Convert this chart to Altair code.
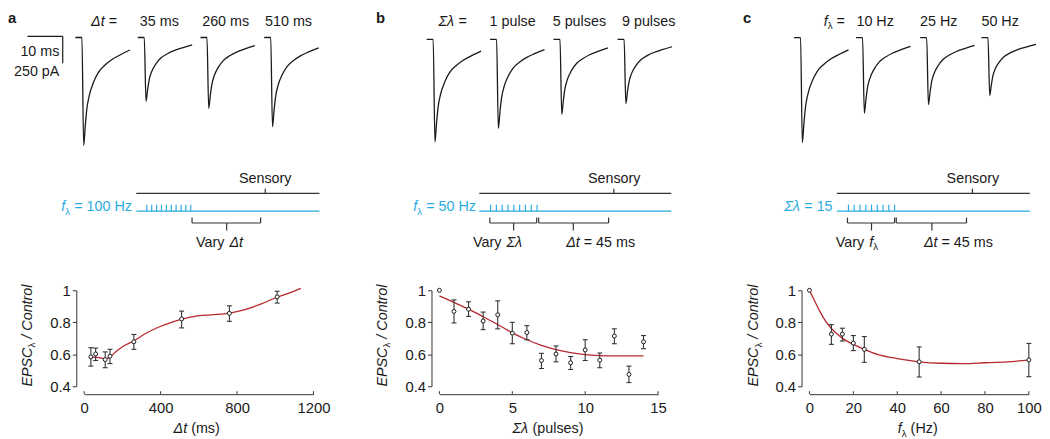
import altair as alt
import pandas as pd

FONT = "Liberation Sans"
INK = "#1a1a1a"
LINE = "#333333"
BLUE = "#29ABE2"
RED = "#B5282E"

# ---------------------------------------------------------------- data
# (a) EPSC_lambda / Control versus delta t
A_DT = [35, 60, 110, 135, 260, 510, 760, 1010]
A_MEAN = [0.584, 0.602, 0.567, 0.588, 0.678, 0.821, 0.856, 0.959]
A_LO = [0.526, 0.561, 0.516, 0.542, 0.631, 0.765, 0.806, 0.920]
A_HI = [0.641, 0.639, 0.615, 0.631, 0.724, 0.870, 0.903, 0.994]
A_FIT_X = [35, 78, 112, 133, 164, 199, 259, 319, 388, 457, 509, 578, 665, 760, 837, 924, 1006, 1079, 1134]
A_FIT_Y = [0.584, 0.579, 0.573, 0.581, 0.615, 0.646, 0.683, 0.728, 0.769, 0.800, 0.819, 0.837,
           0.847, 0.858, 0.878, 0.913, 0.955, 0.986, 1.012]
A_XTICKS = [0, 400, 800, 1200]

# (b) versus number of pulses
B_N = [0, 1, 2, 3, 4, 5, 6, 7, 8, 9, 10, 11, 12, 13, 14]
B_MEAN = [1.0, 0.868, 0.882, 0.808, 0.847, 0.732, 0.736, 0.561, 0.602, 0.547, 0.627, 0.563, 0.714, 0.474, 0.678]
B_LO = [None, 0.796, 0.837, 0.754, 0.759, 0.666, 0.691, 0.511, 0.553, 0.505, 0.561, 0.516, 0.666, 0.423, 0.635]
B_HI = [None, 0.940, 0.928, 0.864, 0.934, 0.800, 0.779, 0.606, 0.652, 0.586, 0.691, 0.608, 0.759, 0.526, 0.717]
B_FIT_X = [0, 1, 2, 3, 4, 5, 6, 7, 8, 9, 10, 11, 12, 13, 14]
B_FIT_Y = [0.965, 0.924, 0.882, 0.835, 0.786, 0.734, 0.691, 0.656, 0.629, 0.610, 0.598, 0.592, 0.590, 0.590, 0.590]
B_XTICKS = [0, 5, 10, 15]

# (c) versus pulse frequency
C_F = [0, 10, 15, 20, 25, 50, 100]
C_MEAN = [1.0, 0.726, 0.726, 0.670, 0.631, 0.553, 0.565]
C_LO = [None, 0.662, 0.683, 0.623, 0.550, 0.458, 0.460]
C_HI = [None, 0.785, 0.763, 0.717, 0.711, 0.646, 0.668]
C_FIT_X = [0, 2.7, 5, 7.2, 9.9, 12.5, 14.9, 20, 25, 31.3, 40, 50, 60, 70, 80, 90, 100]
C_FIT_Y = [1.0, 0.924, 0.862, 0.810, 0.763, 0.728, 0.701, 0.662, 0.631, 0.598, 0.573, 0.553,
           0.544, 0.542, 0.547, 0.553, 0.563]
C_XTICKS = [0, 20, 40, 60, 80, 100]

Y_TICKS = [0.4, 0.6, 0.8, 1.0]

# example EPSC traces: normalised waveform (ms from onset, fraction of peak) and per-trace peaks
TRACE_T = [-1.85, 0.0, 0.5, 0.96, 1.40, 2.08, 3.29, 4.69, 6.57, 8.43, 10.79, 13.60]
TRACE_F = [0.0, 0.0, 1.0, 0.815, 0.661, 0.538, 0.415, 0.323, 0.255, 0.206, 0.162, 0.116]
A_TRACE_ONSET = [0, 17.7, 35.5, 53.6]
A_TRACE_AMP = [1000, 590, 655, 825]
B_TRACE_ONSET = [0, 18.0, 36.0, 54.2]
B_TRACE_AMP = [950, 825, 695, 595]
C_TRACE_ONSET = [0, 17.6, 35.8, 53.2]
C_TRACE_AMP = [970, 700, 620, 535]
SCALEBAR_MS = 10
SCALEBAR_PA = 250

A_TOP_LABELS = ["35 ms", "260 ms", "510 ms"]
B_TOP_LABELS = ["1 pulse", "5 pulses", "9 pulses"]
C_TOP_LABELS = ["10 Hz", "25 Hz", "50 Hz"]

# ---------------------------------------------------------------- layout
TOP = 8.0
PAGE_Y04 = 388.0
PAGE_Y1 = 291.0
H = PAGE_Y04 - TOP
SP = 10.0
VIEW_LEFT = [85.0, 444.0, 817.3]
DATA_W = [231.7, 221.0, 221.7]
W = [VIEW_LEFT[1] - VIEW_LEFT[0] - SP, VIEW_LEFT[2] - VIEW_LEFT[1] - SP, 1042.0 - VIEW_LEFT[2]]
AX_OFF = 8
PX_PER_MS = 3.56
PX_PER_PA = 27.3 / 250
TRACE_P0 = [82.7, 437.7, 808.3]
TRACE_BASE = [35.5, 37.3, 35.7]
TXT = 14.5
TICK_TXT = 15

# Arial / Liberation Sans advance widths (em)
CW = {' ': .278, '=': .584, 'H': .722, 'z': .5, '(': .333, ')': .333, 'm': .833, 's': .5,
      'p': .556, 'u': .556, 'l': .222, 'e': .556, 'V': .667, 'a': .556, 'r': .333, 'y': .5,
      't': .278, 'f': .278, 'Δ': .668, 'Σ': .618, 'λ': .5, 'S': .667, 'n': .556, 'o': .556,
      'E': .667, 'P': .667, 'C': .722, '/': .278, 'A': .667, 'c': .5, 'b': .556}


def tw(s, size):
    return sum(CW.get(ch, .556) for ch in s) * size


def rich(col, parts, x, y, anchor, size=TXT, color=INK, rot=0):
    sizes = [size * 0.68 if k == 's' else size for _, k in parts]
    widths = [tw(t, s) for (t, _), s in zip(parts, sizes)]
    total = sum(widths)
    pos = x - (total if anchor == 'right' else total / 2 if anchor == 'center' else 0)
    if rot:
        pos = y
    rows = []
    for (t, k), s, w in zip(parts, sizes, widths):
        lead = len(t) - len(t.lstrip(' '))
        shift = tw(' ' * lead, s)
        style = 'italic' if k == 'i' else ('bold' if k == 'b' else 'normal')
        sub = size * 0.3 if k == 's' else 0
        if rot:
            rows.append(dict(col=col, x=x + sub, y=pos - shift, text=t.strip(' '), style=style,
                             size=s, color=color, rot=rot))
            pos -= w
        else:
            rows.append(dict(col=col, x=pos + shift, y=y + sub, text=t.strip(' '), style=style,
                             size=s, color=color, rot=0))
            pos += w
    return rows


T = []
# column a
T += rich(0, [("a", 'b')], 8, 15.5, 'left', 15)
T += rich(0, [("Δt", 'i'), (" =", 'n')], 92, 20, 'left')
for lab, cx in zip(A_TOP_LABELS, [161, 228, 291.5]):
    T += rich(0, [(lab, 'n')], cx, 20, 'center')
T += rich(0, [(f"{SCALEBAR_MS} ms", 'n')], 60, 50.7, 'right')
T += rich(0, [(f"{SCALEBAR_PA} pA", 'n')], 60, 70.7, 'right')
T += rich(0, [("Sensory", 'n')], 268, 179, 'center')
T += rich(0, [("f", 'i'), ("λ", 's'), (" = 100 Hz", 'n')], 133.3, 207.3, 'right', color=BLUE)
T += rich(0, [("Vary ", 'n'), ("Δt", 'i')], 221.7, 243.3, 'center')
T += rich(0, [("Δt", 'i'), (" (ms)", 'n')], 198.7, 431.7, 'center')
T += rich(0, [("EPSC", 'i'), ("λ", 's'), (" / Control", 'i')], 28.3, 388.3, 'left', rot=270)
# column b
T += rich(1, [("b", 'b')], 380, 15.5, 'left', 15)
T += rich(1, [("Σλ", 'i'), (" =", 'n')], 443, 20, 'left')
for lab, cx in zip(B_TOP_LABELS, [518, 585.5, 655.5]):
    T += rich(1, [(lab, 'n')], cx, 20, 'center')
T += rich(1, [("Sensory", 'n')], 620.7, 179, 'center')
T += rich(1, [("f", 'i'), ("λ", 's'), (" = 50 Hz", 'n')], 481, 207.3, 'right', color=BLUE)
T += rich(1, [("Vary ", 'n'), ("Σλ", 'i')], 503, 243.3, 'center')
T += rich(1, [("Δt", 'i'), (" = 45 ms", 'n')], 607, 243.3, 'center')
T += rich(1, [("Σλ", 'i'), (" (pulses)", 'n')], 553.8, 431.7, 'center')
T += rich(1, [("EPSC", 'i'), ("λ", 's'), (" / Control", 'i')], 386.7, 388.3, 'left', rot=270)
# column c
T += rich(2, [("c", 'b')], 750, 15.5, 'left', 15)
T += rich(2, [("f", 'i'), ("λ", 's'), (" =", 'n')], 831.7, 20, 'left')
for lab, cx in zip(C_TOP_LABELS, [883.7, 948, 1010]):
    T += rich(2, [(lab, 'n')], cx, 20, 'center')
T += rich(2, [("Sensory", 'n')], 982.5, 179, 'center')
T += rich(2, [("Σλ", 'i'), (" = 15", 'n')], 840.7, 207.3, 'right', color=BLUE)
T += rich(2, [("Vary ", 'n'), ("f", 'i'), ("λ", 's')], 865.3, 243.3, 'center')
T += rich(2, [("Δt", 'i'), (" = 45 ms", 'n')], 967.8, 243.3, 'center')
T += rich(2, [("f", 'i'), ("λ", 's'), (" (Hz)", 'n')], 926.7, 431.7, 'center')
T += rich(2, [("EPSC", 'i'), ("λ", 's'), (" / Control", 'i')], 761.7, 388.3, 'left', rot=270)
texts = pd.DataFrame(T)

# stimulation protocol diagrams (schematic)
L = []


def seg(col, x1, y1, x2, y2, color=LINE):
    L.append(dict(col=col, x1=x1, y1=y1, x2=x2, y2=y2, color=color))


def bracket(col, xa, xb, xm):
    seg(col, xa, 223, xb, 223)
    seg(col, xa, 217.5, xa, 223)
    seg(col, xb, 217.5, xb, 223)
    seg(col, xm, 223, xm, 230.5)


PROTO = [  # (line start, line end, sensory tick, first pulse, last pulse, n pulses)
    (137.7, 322.7, 268.0, 148.3, 192.7, 10),
    (484.3, 678.3, 620.3, 495.7, 542.7, 9),
    (845.0, 1040.0, 982.0, 856.7, 903.3, 9),
]
for k, (xa, xb, xs_, p0, p1, n) in enumerate(PROTO):
    seg(k, xa, 193, xb, 193)
    seg(k, xs_, 188.3, xs_, 193)
    seg(k, xa, 211, xb, 211, BLUE)
    for i in range(n):
        px = p0 + (p1 - p0) * i / (n - 1)
        seg(k, px, 204.5, px, 211, BLUE)
bracket(0, 194, 263.3, 229)
bracket(1, 495, 542.3, 519)
bracket(1, 544.3, 615, 579.3)
bracket(2, 855.7, 903.3, 880)
bracket(2, 905, 976, 941)
lines = pd.DataFrame(L)

# trace table
R = []
for k, (ons, amps) in enumerate([(A_TRACE_ONSET, A_TRACE_AMP), (B_TRACE_ONSET, B_TRACE_AMP),
                                 (C_TRACE_ONSET, C_TRACE_AMP)]):
    for j, (o, a) in enumerate(zip(ons, amps)):
        for i, (t, f) in enumerate(zip(TRACE_T, TRACE_F)):
            R.append(dict(col=k, trace=f"{k}-{j}", i=i, ms=o + t, pA=-a * f))
traces = pd.DataFrame(R)


def text_layers(df, xs, ys):
    out = []
    for style in ('normal', 'italic', 'bold'):
        for rot in (0, 270):
            sub = df[(df['style'] == style) & (df['rot'] == rot)]
            if len(sub) == 0:
                continue
            out.append(alt.Chart(sub).mark_text(
                align='left', baseline='middle', font=FONT,
                fontStyle='italic' if style == 'italic' else 'normal',
                fontWeight='bold' if style == 'bold' else 'normal', angle=rot).encode(
                x=alt.X('x:Q', scale=xs, axis=None),
                y=alt.Y('y:Q', scale=ys, axis=None),
                text='text:N',
                size=alt.Size('size:Q', scale=None),
                color=alt.Color('color:N', scale=None)))
    return out


def data_group(k, xv, mean, lo, hi, fx, fy, xdom, xticks):
    xs = alt.Scale(domain=xdom, range=[0, DATA_W[k]], nice=False, zero=False)
    ys = alt.Scale(domain=[0.4, 1.0], range=[PAGE_Y04 - TOP, PAGE_Y1 - TOP], nice=False, zero=False)
    ax_x = alt.Axis(values=xticks, format='d', title=None, orient='bottom', offset=AX_OFF,
                    tickSize=0, domainColor=LINE, domainWidth=1, labelFont=FONT,
                    labelFontSize=TICK_TXT, labelColor=INK, labelPadding=6, grid=False,
                    labelFlush=False, labelOverlap=False)
    ax_y = alt.Axis(values=Y_TICKS, format='.1~f', title=None, orient='left',
                    offset=AX_OFF, tickSize=4, tickColor=LINE, tickWidth=1, domainColor=LINE,
                    domainWidth=1, labelFont=FONT, labelFontSize=TICK_TXT, labelColor=INK,
                    labelPadding=2, grid=False, labelOverlap=False)
    pts = pd.DataFrame({'x': xv, 'm': mean, 'lo': lo, 'hi': hi})
    err = pts.dropna()
    fit = pd.DataFrame({'x': fx, 'y': fy})
    tk = pd.DataFrame({'v': xticks})

    def X(f):
        return alt.X(f, scale=xs, axis=ax_x)

    def Y(f):
        return alt.Y(f, scale=ys, axis=ax_y)

    fitl = alt.Chart(fit).mark_line(color=RED, strokeWidth=1.3, interpolate='monotone').encode(
        x=X('x:Q'), y=Y('y:Q'))
    bars = alt.Chart(err).mark_rule(color=LINE, strokeWidth=1.1).encode(
        x=X('x:Q'), y=Y('lo:Q'), y2='hi:Q')
    cap_lo = alt.Chart(err).mark_rule(color=LINE, strokeWidth=1.1, xOffset=-2.5, x2Offset=2.5).encode(
        x=X('x:Q'), x2='x:Q', y=Y('lo:Q'))
    cap_hi = alt.Chart(err).mark_rule(color=LINE, strokeWidth=1.1, xOffset=-2.5, x2Offset=2.5).encode(
        x=X('x:Q'), x2='x:Q', y=Y('hi:Q'))
    dots = alt.Chart(pts).mark_point(shape='circle', filled=True, fill='white', stroke=INK,
                                     strokeWidth=1, size=16, opacity=1).encode(
        x=X('x:Q'), y=Y('m:Q'))
    ticks = alt.Chart(tk).mark_rule(color=LINE, strokeWidth=1).encode(
        x=X('v:Q'), y=alt.value(PAGE_Y04 - TOP + AX_OFF), y2=alt.value(PAGE_Y04 - TOP + AX_OFF - 3))
    return alt.layer(fitl, bars, cap_lo, cap_hi, dots, ticks)


def column(k, dg):
    VL, Wk = VIEW_LEFT[k], W[k]
    ms_lo = (VL - TRACE_P0[k]) / PX_PER_MS
    ms_hi = ms_lo + Wk / PX_PER_MS
    base_rel = TRACE_BASE[k] - TOP
    xs_t = alt.Scale(domain=[ms_lo, ms_hi], nice=False, zero=False)
    ys_t = alt.Scale(domain=[(base_rel - H) / PX_PER_PA, base_rel / PX_PER_PA], nice=False, zero=False)
    tr = traces[traces['col'] == k]
    tlayers = [alt.Chart(tr).mark_line(color=INK, strokeWidth=1.3, interpolate='monotone').encode(
        x=alt.X('ms:Q', scale=xs_t, axis=None),
        y=alt.Y('pA:Q', scale=ys_t, axis=None),
        detail='trace:N', order='i:Q')]
    if k == 0:
        sb_x = (27.7 - TRACE_P0[0]) / PX_PER_MS
        sb_y = (TRACE_BASE[0] - 34.3) / PX_PER_PA
        sb = pd.DataFrame({'x': [sb_x, sb_x + SCALEBAR_MS], 'x2': [sb_x + SCALEBAR_MS, sb_x + SCALEBAR_MS],
                           'y': [sb_y, sb_y], 'y2': [sb_y, sb_y - SCALEBAR_PA]})
        tlayers.append(alt.Chart(sb).mark_rule(color=INK, strokeWidth=1.2).encode(
            x=alt.X('x:Q', scale=xs_t, axis=None), x2='x2:Q',
            y=alt.Y('y:Q', scale=ys_t, axis=None), y2='y2:Q'))
    tgroup = alt.layer(*tlayers)

    xs_a = alt.Scale(domain=[VL, VL + Wk], nice=False, zero=False)
    ys_a = alt.Scale(domain=[TOP, TOP + H], reverse=True, nice=False, zero=False)
    rl = alt.Chart(lines[lines['col'] == k]).mark_rule(strokeWidth=1.2).encode(
        x=alt.X('x1:Q', scale=xs_a, axis=None), x2='x2:Q',
        y=alt.Y('y1:Q', scale=ys_a, axis=None), y2='y2:Q',
        color=alt.Color('color:N', scale=None))
    agroup = alt.layer(rl, *text_layers(texts[texts['col'] == k], xs_a, ys_a))

    return alt.layer(tgroup, agroup, dg).resolve_scale(x='independent', y='independent').properties(
        width=Wk, height=H)


col_a = column(0, data_group(0, A_DT, A_MEAN, A_LO, A_HI, A_FIT_X, A_FIT_Y, [0, 1200], A_XTICKS))
col_b = column(1, data_group(1, B_N, B_MEAN, B_LO, B_HI, B_FIT_X, B_FIT_Y, [0, 15], B_XTICKS))
col_c = column(2, data_group(2, C_F, C_MEAN, C_LO, C_HI, C_FIT_X, C_FIT_Y, [0, 100], C_XTICKS))

chart = alt.hconcat(col_a, col_b, col_c, spacing=SP, bounds='flush').properties(
    padding=0).configure_view(stroke=None)

chart.save("out.html", embed_options={"renderer": "svg", "actions": False})
